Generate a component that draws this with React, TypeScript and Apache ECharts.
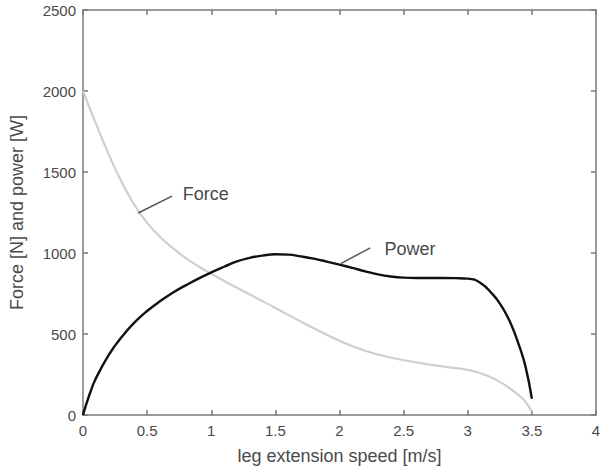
import React, { useEffect, useRef } from "react";
import * as echarts from "echarts";

// Force curve (light gray)
const forceSpeed = [0, 0.1, 0.2, 0.3, 0.4, 0.5, 0.6, 0.7, 0.8, 0.9, 1.0, 1.2, 1.4, 1.6, 1.8, 2.0, 2.2, 2.4, 2.6, 2.8, 3.0, 3.1, 3.2, 3.3, 3.4, 3.45, 3.5];
const forceValues = [2000, 1800, 1610, 1440, 1298, 1186, 1100, 1030, 970, 918, 872, 785, 703, 618, 535, 458, 397, 355, 325, 300, 279, 258, 226, 180, 120, 82, 20];

// Power curve (black)
const powerSpeed = [0, 0.05, 0.1, 0.2, 0.3, 0.4, 0.5, 0.6, 0.7, 0.8, 0.9, 1.0, 1.1, 1.2, 1.3, 1.4, 1.5, 1.6, 1.7, 1.8, 1.9, 2.0, 2.1, 2.2, 2.3, 2.4, 2.5, 2.6, 2.7, 2.8, 2.9, 3.0, 3.1, 3.2, 3.25, 3.3, 3.35, 3.4, 3.45, 3.5];
const powerValues = [0, 125, 225, 370, 480, 570, 642, 702, 755, 800, 842, 880, 915, 948, 970, 984, 992, 990, 979, 965, 947, 928, 908, 887, 868, 855, 848, 846, 846, 846, 845, 842, 815, 740, 688, 622, 537, 430, 300, 100];

// Axis ticks
const xTicks = [0, 0.5, 1, 1.5, 2, 2.5, 3, 3.5, 4];
const yTicks = [0, 500, 1000, 1500, 2000, 2500];

// Annotations: label text, pointer start, pointer end, label anchor (data coords)
const annotLabels = ["Force", "Power"];
const annotFrom = [[0.43, 1247], [2.01, 934]];
const annotTo = [[0.694, 1351], [2.24, 1032]];
const annotText = [[0.778, 1364], [2.35, 1026]];

const FONT = "'Liberation Sans', Arial, Helvetica, sans-serif";
const AXIS_COLOR = "#7a7a7a";
const TEXT_COLOR = "#4a4a4a";

export default function App() {
  const ref = useRef<HTMLDivElement>(null);
  useEffect(() => {
    if (!ref.current) return;
    const chart = echarts.init(ref.current, undefined, { renderer: "svg" });
    const xMin = xTicks[0], xMax = xTicks[xTicks.length - 1];
    const yMin = yTicks[0], yMax = yTicks[yTicks.length - 1];
    const axisCommon = {
      axisLine: { show: true, onZero: false, lineStyle: { color: AXIS_COLOR, width: 1.5 } },
      axisTick: { show: true, inside: true, length: 5, lineStyle: { color: AXIS_COLOR, width: 1.5 } },
      splitLine: { show: false },
    };
    const fmt = (v: number) => String(v);
    chart.setOption({
      animation: false,
      backgroundColor: "#ffffff",
      grid: { left: 77, right: 8, top: 10, bottom: 53, containLabel: false },
      xAxis: [
        {
          type: "value", min: xMin, max: xMax, interval: 0.5, position: "bottom",
          ...axisCommon,
          axisLabel: { color: TEXT_COLOR, fontFamily: FONT, fontSize: 15, margin: 8, formatter: fmt },
          name: "leg extension speed [m/s]", nameLocation: "middle", nameGap: 32,
          nameTextStyle: { color: TEXT_COLOR, fontFamily: FONT, fontSize: 18 },
        },
        {
          type: "value", min: xMin, max: xMax, interval: 0.5, position: "top",
          ...axisCommon, axisLabel: { show: false },
        },
      ],
      yAxis: [
        {
          type: "value", min: yMin, max: yMax, interval: 500, position: "left",
          ...axisCommon,
          axisLabel: { color: TEXT_COLOR, fontFamily: FONT, fontSize: 15, margin: 7, formatter: fmt },
          name: "Force [N] and power [W]", nameLocation: "middle", nameGap: 57,
          nameTextStyle: { color: TEXT_COLOR, fontFamily: FONT, fontSize: 18 },
        },
        {
          type: "value", min: yMin, max: yMax, interval: 500, position: "right",
          ...axisCommon, axisLabel: { show: false },
        },
      ],
      series: [
        {
          type: "line", name: "Force", xAxisIndex: 0, yAxisIndex: 0,
          data: forceSpeed.map((s, i) => [s, forceValues[i]]),
          smooth: 0.5, showSymbol: false,
          lineStyle: { color: "#cfcfcf", width: 2.2 },
        },
        {
          type: "line", name: "Power", xAxisIndex: 0, yAxisIndex: 0,
          data: powerSpeed.map((s, i) => [s, powerValues[i]]),
          smooth: 0.5, showSymbol: false,
          lineStyle: { color: "#111111", width: 2.4 },
        },
      ],
    });

    const graphics: any[] = [];
    annotLabels.forEach((label, i) => {
      const p1 = chart.convertToPixel({ gridIndex: 0 }, annotFrom[i]) as number[];
      const p2 = chart.convertToPixel({ gridIndex: 0 }, annotTo[i]) as number[];
      const pt = chart.convertToPixel({ gridIndex: 0 }, annotText[i]) as number[];
      graphics.push({
        type: "line",
        shape: { x1: p1[0], y1: p1[1], x2: p2[0], y2: p2[1] },
        style: { stroke: "#555555", lineWidth: 1.5 },
        z: 10,
      });
      graphics.push({
        type: "text",
        x: pt[0], y: pt[1],
        style: {
          text: label, fill: TEXT_COLOR, font: `18px ${FONT}`,
          textAlign: "left", textVerticalAlign: "middle",
        },
        z: 10,
      });
    });
    chart.setOption({ graphic: graphics });

    return () => chart.dispose();
  }, []);
  return (
    <div
      ref={ref}
      style={{ position: "fixed", left: 0, top: 0, width: 604, height: 470, background: "#fff" }}
    />
  );
}
